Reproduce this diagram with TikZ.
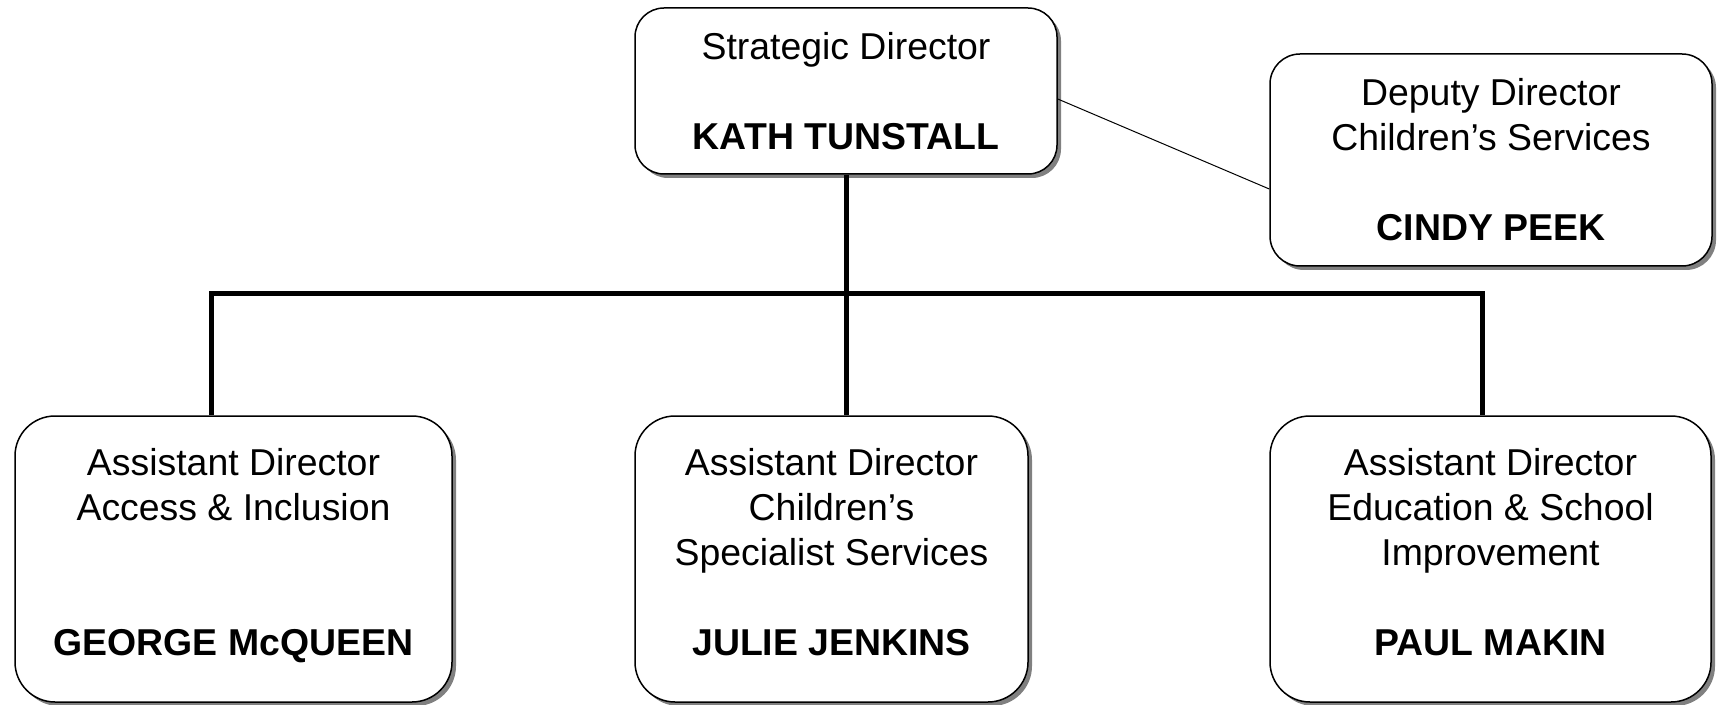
\documentclass[tikz,border=0pt]{standalone}
\usepackage{fontspec}
\setmainfont{Liberation Sans}
\usetikzlibrary{shadows}

\begin{document}
\begin{tikzpicture}[x=0.5pt, y=-0.5pt,
  post/.style={draw, line width=0.75pt, fill=white, align=center, inner sep=0pt,
    font=\fontsize{18.7}{22.5}\selectfont,
    drop shadow={shadow xshift=2pt, shadow yshift=-2pt, fill=black!50, opacity=1}},
  bus/.style={line width=2.5pt},
  link/.style={line width=0.5pt}]
\useasboundingbox (0,0) rectangle (1717,705);
% top row
\node[post, rounded corners=14.5pt, minimum width=211pt, minimum height=83pt] (strat) at (846,91)
  {Strategic Director\\[22.5pt]\textbf{KATH TUNSTALL}};
\node[post, rounded corners=15pt, minimum width=221pt, minimum height=106pt] (deputy) at (1491,160)
  {Deputy Director\\Children’s Services\\[22.5pt]\textbf{CINDY PEEK}};
% bottom row
\node[post, rounded corners=20pt, minimum width=218.5pt, minimum height=143pt] (access) at (233.5,559)
  {Assistant Director\\Access \& Inclusion\\[45pt]\textbf{GEORGE McQUEEN}\strut};
\node[post, rounded corners=20pt, minimum width=196.5pt, minimum height=143pt] (specialist) at (831.5,559)
  {Assistant Director\\Children’s\\Specialist Services\\[22.5pt]\textbf{JULIE JENKINS}\strut};
\node[post, rounded corners=20pt, minimum width=220.5pt, minimum height=143pt] (school) at (1490.5,559)
  {Assistant Director\\Education \& School\\Improvement\\[22.5pt]\textbf{PAUL MAKIN}\strut};
% lines
\draw[link] ([yshift=-4pt]strat.east) -- ([yshift=-14.5pt]deputy.west);
\draw[bus] ([xshift=-11.25pt]access.north) -- ++(0,-122) coordinate (busL) -| ([xshift=-4.25pt]school.north);
\draw[bus] (strat.south) -- (strat.south |- specialist.north);
\end{tikzpicture}
\end{document}
